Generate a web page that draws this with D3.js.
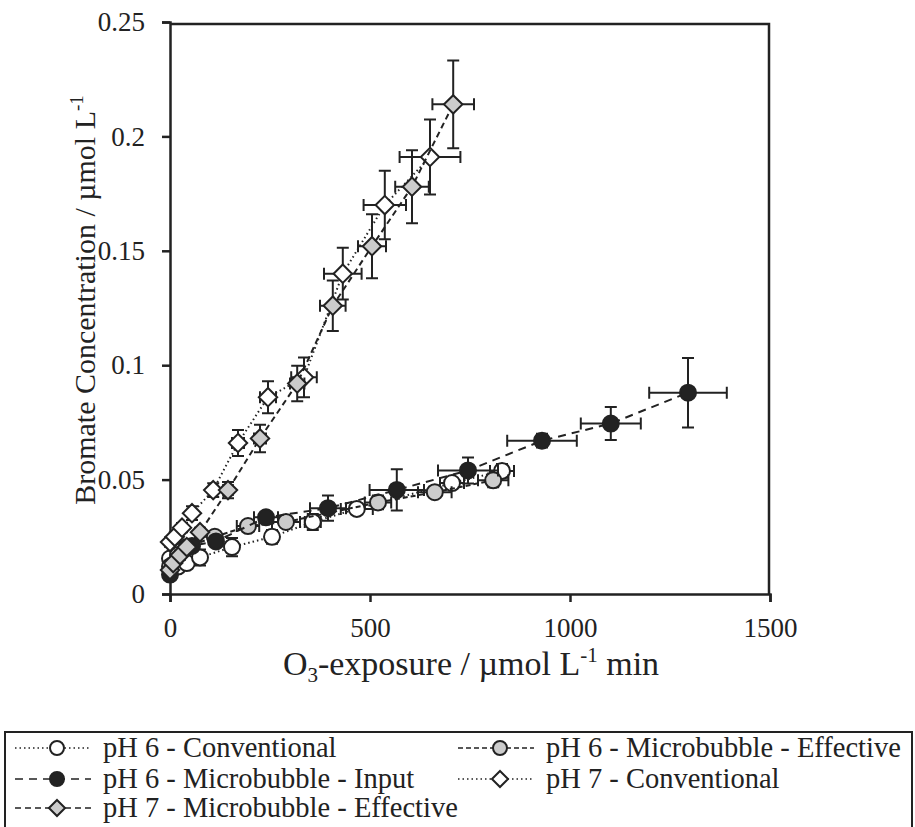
<!DOCTYPE html>
<html><head><meta charset="utf-8">
<script src="https://cdn.jsdelivr.net/npm/d3@7"></script>
<style>body{margin:0;background:#fff}</style>
</head><body>
<svg id="chart" width="915" height="827"></svg>
<script>
// ---- data ----
const xTicks = [0, 500, 1000, 1500];
const xTickLabels = ["0", "500", "1000", "1500"];
const yTicks = [0, 0.05, 0.1, 0.15, 0.2, 0.25];
const yTickLabels = ["0", "0.05", "0.1", "0.15", "0.2", "0.25"];

const seriesNames = ["pH 6 - Conventional", "pH 6 - Microbubble - Effective", "pH 6 - Microbubble - Input", "pH 7 - Conventional", "pH 7 - Microbubble - Effective"];

const ph6ConvX = [0, 20, 42, 75, 155, 255, 357, 467, 705, 830];
const ph6ConvY = [0.0155, 0.012, 0.0135, 0.016, 0.0205, 0.025, 0.0315, 0.0372, 0.0485, 0.0538];
const ph6ConvXErr = [2, 3, 4, 8, 10, 15, 20, 40, 30, 30];
const ph6ConvYErr = [0.002, 0.002, 0.002, 0.0035, 0.004, 0.003, 0.0035, 0.002, 0.002, 0.003];

const ph6MbEffX = [0, 20, 42, 112, 195, 290, 520, 662, 808];
const ph6MbEffY = [0.012, 0.017, 0.0205, 0.025, 0.0297, 0.0315, 0.040, 0.0445, 0.0497];
const ph6MbEffXErr = [2, 4, 6, 12, 28, 35, 33, 42, 38];
const ph6MbEffYErr = [0.002, 0.002, 0.002, 0.002, 0.002, 0.002, 0.003, 0.002, 0.003];

const ph6MbInX = [0, 55, 115, 240, 395, 567, 745, 930, 1102, 1295];
const ph6MbInY = [0.0085, 0.021, 0.023, 0.0335, 0.0375, 0.0455, 0.054, 0.067, 0.0745, 0.088];
const ph6MbInXErr = [2, 6, 12, 30, 45, 68, 75, 87, 75, 97];
const ph6MbInYErr = [0.002, 0.002, 0.002, 0.002, 0.0055, 0.009, 0.0057, 0.003, 0.0072, 0.0152];

const ph7ConvX = [0, 12, 30, 55, 108, 170, 245, 335, 432, 537, 650];
const ph7ConvY = [0.0227, 0.025, 0.029, 0.0353, 0.0454, 0.066, 0.086, 0.0947, 0.140, 0.170, 0.191];
const ph7ConvXErr = [2, 3, 5, 6, 10, 15, 20, 32, 47, 53, 76];
const ph7ConvYErr = [0.002, 0.002, 0.002, 0.003, 0.003, 0.0057, 0.007, 0.0087, 0.0113, 0.015, 0.0164];

const ph7MbEffX = [0, 8, 25, 42, 75, 145, 225, 318, 407, 505, 605, 708];
const ph7MbEffY = [0.0105, 0.0135, 0.017, 0.0205, 0.027, 0.0454, 0.068, 0.092, 0.126, 0.152, 0.178, 0.214];
const ph7MbEffXErr = [2, 3, 4, 5, 8, 12, 15, 18, 32, 35, 42, 52];
const ph7MbEffYErr = [0.002, 0.002, 0.002, 0.002, 0.002, 0.0035, 0.006, 0.0078, 0.011, 0.014, 0.016, 0.0192];

// ---- build ----
const series = [
  {name: seriesNames[0], xs: ph6ConvX, ys: ph6ConvY, xe: ph6ConvXErr, ye: ph6ConvYErr, shape: "circle", fill: "#ffffff", dash: "1.5,3"},
  {name: seriesNames[1], xs: ph6MbEffX, ys: ph6MbEffY, xe: ph6MbEffXErr, ye: ph6MbEffYErr, shape: "circle", fill: "#cccccc", dash: "5,3"},
  {name: seriesNames[2], xs: ph6MbInX, ys: ph6MbInY, xe: ph6MbInXErr, ye: ph6MbInYErr, shape: "circle", fill: "#222222", dash: "8,6"},
  {name: seriesNames[3], xs: ph7ConvX, ys: ph7ConvY, xe: ph7ConvXErr, ye: ph7ConvYErr, shape: "diamond", fill: "#ffffff", dash: "1.5,3"},
  {name: seriesNames[4], xs: ph7MbEffX, ys: ph7MbEffY, xe: ph7MbEffXErr, ye: ph7MbEffYErr, shape: "diamond", fill: "#cccccc", dash: "6,4"}
];

const svg = d3.select("#chart");
svg.append("rect").attr("width", 915).attr("height", 827).attr("fill", "#fff");

const x = d3.scaleLinear().domain([0, 1500]).range([170, 770]);
const y = d3.scaleLinear().domain([0, 0.25]).range([594, 22]);
const ink = "#222";
const serif = '"Liberation Serif"';

// frame (top and right)
svg.append("path")
  .attr("d", `M${x(0)},24 H${x(1500)-1} V${y(0)}`)
  .attr("fill", "none").attr("stroke", ink).attr("stroke-width", 2.5);

// axes
const yAxis = d3.axisLeft(y).tickValues(yTicks).tickFormat((d, i) => yTickLabels[i]).tickSize(8).tickPadding(17);
const xAxis = d3.axisBottom(x).tickValues(xTicks).tickFormat((d, i) => xTickLabels[i]).tickSize(8).tickPadding(16);

const gy = svg.append("g").attr("transform", `translate(${x(0)},0)`).call(yAxis);
const gx = svg.append("g").attr("transform", `translate(0,${y(0)})`).call(xAxis);
[gx, gy].forEach(g => {
  g.select(".domain").attr("stroke", ink).attr("stroke-width", 2.5);
  g.selectAll(".tick line").attr("stroke", ink).attr("stroke-width", 2.5);
  g.selectAll(".tick text").style("font-family", serif).style("font-size", "27px").attr("fill", ink);
});

// axis titles
const yt = svg.append("text").attr("transform", `translate(95,300) rotate(-90)`)
  .attr("text-anchor", "middle").style("font-family", serif).style("font-size", "30px").attr("fill", ink);
yt.append("tspan").text("Bromate Concentration / µmol L");
yt.append("tspan").style("font-size", "19px").attr("dy", -12).text("-1");

const xt = svg.append("text").attr("x", 471).attr("y", 675).attr("text-anchor", "middle")
  .style("font-family", serif).style("font-size", "34px").attr("fill", ink);
xt.append("tspan").text("O");
xt.append("tspan").style("font-size", "21px").attr("dy", 7).text("3");
xt.append("tspan").attr("dy", -7).text("-exposure / µmol L");
xt.append("tspan").style("font-size", "21px").attr("dy", -13).text("-1");
xt.append("tspan").attr("dy", 13).text(" min");

// markers
function drawMarker(g, shape, fill, cx, cy, r) {
  if (shape === "circle") {
    g.append("circle").attr("cx", cx).attr("cy", cy).attr("r", r)
      .attr("fill", fill).attr("stroke", ink).attr("stroke-width", 2);
  } else {
    const s = r * 1.15;
    g.append("path").attr("d", `M${cx},${cy-s} L${cx+s},${cy} L${cx},${cy+s} L${cx-s},${cy} Z`)
      .attr("fill", fill).attr("stroke", ink).attr("stroke-width", 2);
  }
}

const cap = 6;
series.forEach(s => {
  const g = svg.append("g");
  const pts = s.xs.map((v, i) => ({x: v, y: s.ys[i], xe: s.xe[i], ye: s.ye[i]}));
  g.append("path").datum(pts)
    .attr("d", d3.line().x(d => x(d.x)).y(d => y(d.y)))
    .attr("fill", "none").attr("stroke", ink).attr("stroke-width", 2).attr("stroke-dasharray", s.dash);
  pts.forEach(d => {
    const px = x(d.x), py = y(d.y);
    const y1 = y(d.y + d.ye), y2 = y(d.y - d.ye);
    const x1 = x(d.x - d.xe), x2 = x(d.x + d.xe);
    const p = `M${px},${y1} V${y2} M${px-cap},${y1} H${px+cap} M${px-cap},${y2} H${px+cap}` +
              `M${x1},${py} H${x2} M${x1},${py-cap} V${py+cap} M${x2},${py-cap} V${py+cap}`;
    g.append("path").attr("d", p).attr("stroke", ink).attr("stroke-width", 2).attr("fill", "none");
  });
  pts.forEach(d => drawMarker(g, s.shape, s.fill, x(d.x), y(d.y), 8));
});

// legend
svg.append("rect").attr("x", 5).attr("y", 732).attr("width", 907).attr("height", 120)
  .attr("fill", "#fff").attr("stroke", ink).attr("stroke-width", 2);
const legPos = [[15, 748], [458, 748], [15, 779], [458, 779], [15, 808]];
series.forEach((s, i) => {
  const [lx, ly] = legPos[i];
  const g = svg.append("g");
  g.append("line").attr("x1", lx).attr("x2", lx + 76).attr("y1", ly).attr("y2", ly)
    .attr("stroke", ink).attr("stroke-width", 1.5).attr("stroke-dasharray", s.dash);
  drawMarker(g, s.shape, s.fill, lx + 42, ly, 7);
  g.append("text").attr("x", lx + 88).attr("y", ly + 9)
    .style("font-family", serif).style("font-size", "28.5px").attr("fill", ink).text(s.name);
});
</script>
</body></html>
